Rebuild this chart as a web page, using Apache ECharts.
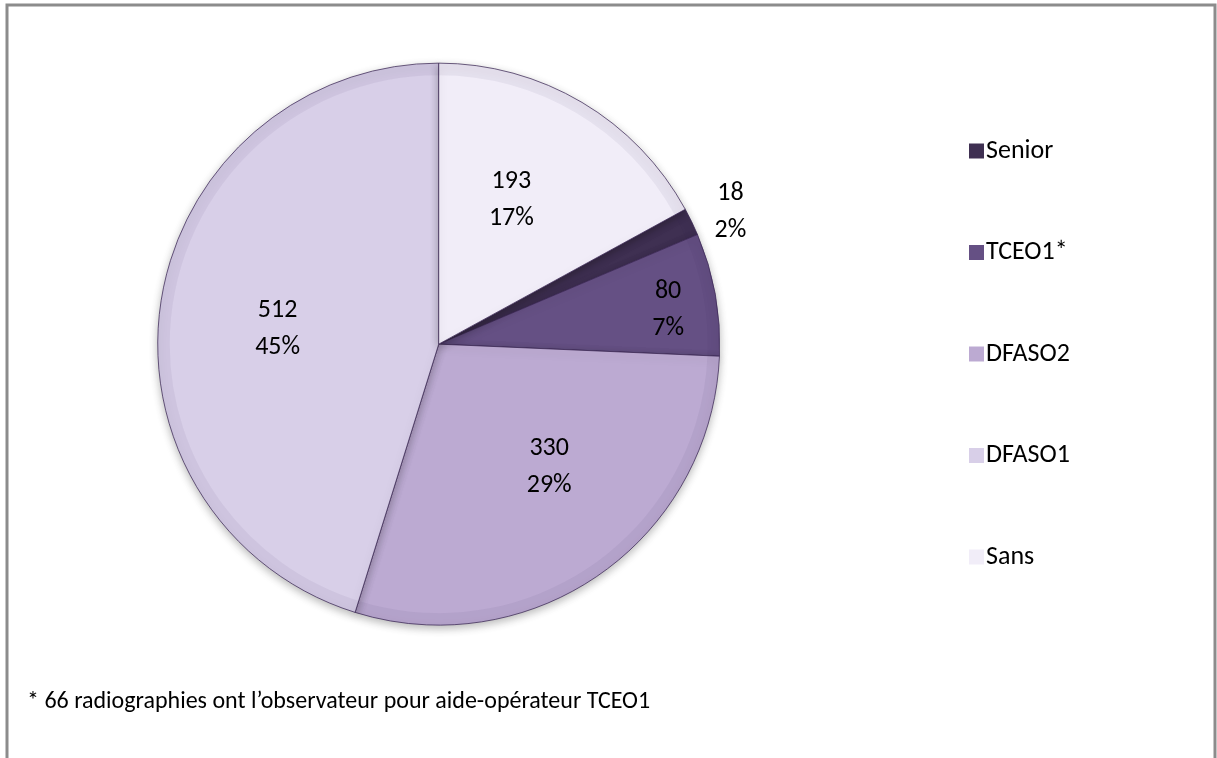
<!DOCTYPE html>
<html>
<head>
<meta charset="utf-8">
<script src="https://cdn.jsdelivr.net/npm/echarts@6/dist/echarts.min.js"></script>
<style>
  html, body { margin: 0; padding: 0; background: #ffffff; }
  #chart { width: 1217px; height: 758px; }
</style>
</head>
<body>
<div id="chart"></div>
<script>
// Répartition des aides-opérateurs
const categories = ['Senior', 'TCEO1*', 'DFASO2', 'DFASO1', 'Sans'];
const counts = [18, 80, 330, 512, 193];
const sliceColors = ['#3f3052', '#655084', '#bcaad2', '#d8cfe8', '#f1edf8'];
const footnote = '* 66 radiographies ont l\u2019observateur pour aide-opérateur TCEO1';

const total = counts.reduce((a, b) => a + b, 0);
// first slice (Senior) begins where the "Sans" slice ends, "Sans" ending at 12 o'clock
const startAngle = 90 - counts[counts.length - 1] / total * 360;

const FONT = 'Carlito, Calibri, Lato, sans-serif';
const center = ['36.05%', '45.4%'];
const R = 281;

const labelFmt = p => p.value + '\n' + Math.round(p.percent) + '%';

// best-fit nudges of the data labels, by slice name
const labelNudge = {
  'Senior': [1, 9],
  'TCEO1*': [66, -5],
  'DFASO2': [15, -13],
  'DFASO1': [3, 10],
  'Sans': [-12, -1]
};

const mainData = categories.map((name, i) => ({
  name,
  value: counts[i],
  itemStyle: { color: sliceColors[i] }
}));

const insideLabels = categories.map((name, i) => ({
  name,
  value: counts[i],
  label: { show: name !== 'Senior' }
}));

const outerLabels = categories.map((name, i) => ({
  name,
  value: counts[i],
  label: { show: name === 'Senior' }
}));

const labelStyle = {
  color: '#000',
  fontFamily: FONT,
  fontSize: 26,
  lineHeight: 37,
  formatter: labelFmt
};

const nudge = params => {
  const d = labelNudge[categories[params.dataIndex]];
  return { dx: d[0], dy: d[1] };
};

const chart = echarts.init(document.getElementById('chart'), null, { renderer: 'canvas' });
chart.setOption({
  animation: false,
  backgroundColor: '#ffffff',
  legend: {
    orient: 'vertical',
    left: 964,
    top: 133,
    itemWidth: 15,
    itemHeight: 15,
    itemGap: 75.5,
    icon: 'rect',
    itemStyle: { borderWidth: 0 },
    textStyle: { fontFamily: FONT, fontSize: 26, color: '#000', padding: [0, 0, 0, -3] },
    data: categories.map((name, i) => ({ name, itemStyle: { color: sliceColors[i], borderWidth: 0 } }))
  },
  graphic: [
    {
      type: 'polyline',
      shape: { points: [[7, 760], [7, 5], [1215, 5], [1215, 760]] },
      style: { stroke: '#8c8c8c', lineWidth: 3, fill: null },
      silent: true
    },
    {
      type: 'text',
      left: 27,
      top: 690,
      style: { text: footnote, font: '24px ' + FONT, fill: '#000' },
      silent: true
    }
  ],
  series: [
    {
      type: 'pie',
      center,
      radius: [0, R],
      startAngle,
      clockwise: true,
      label: { show: false },
      labelLine: { show: false },
      emphasis: { disabled: true },
      itemStyle: {
        borderColor: 'rgba(60,40,85,0.75)',
        borderWidth: 1,
        shadowBlur: 8,
        shadowOffsetY: 3,
        shadowColor: 'rgba(0,0,0,0.28)'
      },
      data: mainData
    },
    {
      // soft darker rim along the outer edge
      type: 'pie',
      center,
      radius: [R - 12, R],
      startAngle,
      clockwise: true,
      silent: true,
      legendHoverLink: false,
      itemStyle: { color: 'rgba(50,30,80,0.06)', borderWidth: 0 },
      label: { show: false },
      labelLine: { show: false },
      data: categories.map((name, i) => ({ name, value: counts[i] }))
    },
    {
      type: 'pie',
      center,
      radius: [45, R],
      startAngle,
      clockwise: true,
      silent: true,
      legendHoverLink: false,
      itemStyle: { color: 'rgba(0,0,0,0)' },
      label: Object.assign({ position: 'inside' }, labelStyle),
      labelLine: { show: false },
      labelLayout: nudge,
      data: insideLabels
    },
    {
      type: 'pie',
      center,
      radius: [300, 340],
      startAngle,
      clockwise: true,
      silent: true,
      legendHoverLink: false,
      itemStyle: { color: 'rgba(0,0,0,0)' },
      label: Object.assign({ position: 'inside' }, labelStyle),
      labelLine: { show: false },
      labelLayout: nudge,
      data: outerLabels
    }
  ]
});
</script>
</body>
</html>
